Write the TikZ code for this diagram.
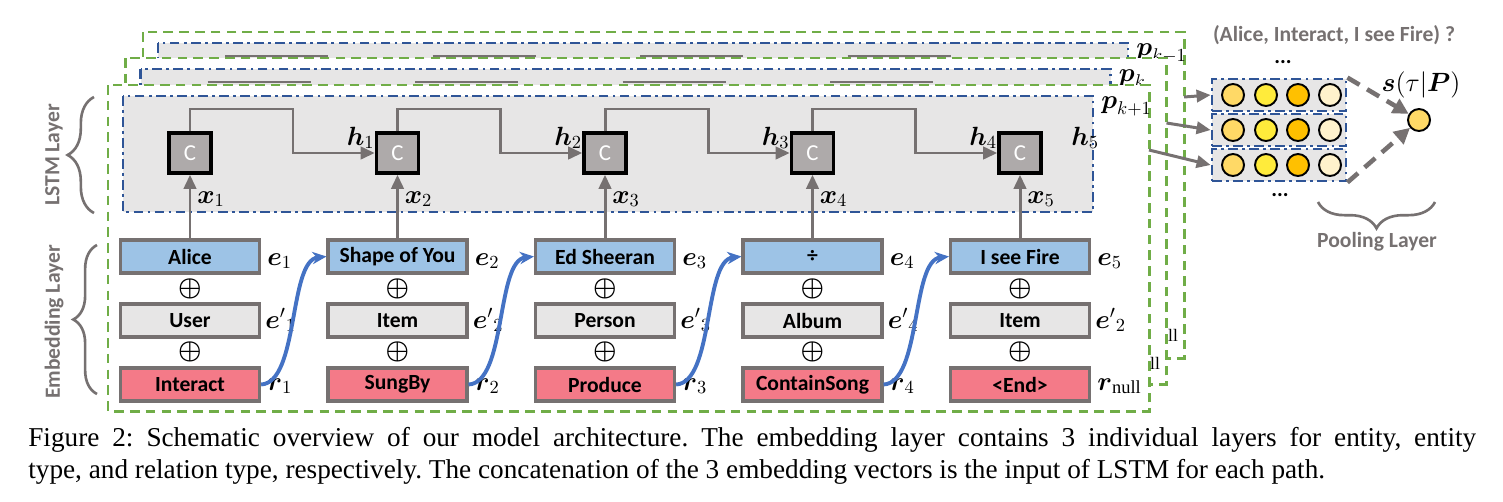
\RequirePackage{fix-cm}
\documentclass[tikz,border=0pt]{standalone}
\usepackage{amsmath}
\usepackage{fontspec}
\setmainfont{Liberation Serif}
\newfontfamily\csans{Carlito}
\usetikzlibrary{arrows.meta,decorations.pathreplacing,calc}
\definecolor{fgreen}{HTML}{70AD47}
\definecolor{fblue}{HTML}{2F5597}
\definecolor{lgray}{HTML}{E7E6E6}
\definecolor{cgray}{HTML}{AEAAAA}
\definecolor{bgray}{HTML}{767171}
\definecolor{eblue}{HTML}{9DC3E6}
\definecolor{epink}{HTML}{F47A88}
\definecolor{arrblue}{HTML}{4472C4}
\definecolor{dotA}{HTML}{FFD966}
\definecolor{dotB}{HTML}{FFEB3B}
\definecolor{dotC}{HTML}{FFC000}
\definecolor{dotD}{HTML}{FFF2CC}
\tikzset{
  greenframe/.style={draw=fgreen, line width=1.7pt, dash pattern=on 5.5pt off 3.5pt, fill=white},
  blueframe/.style={draw=fblue, line width=1.6pt, dash pattern=on 5.5pt off 2.5pt on 1.5pt off 2.5pt, fill=lgray},
  cbox/.style={draw=black, line width=2pt, fill=cgray, minimum width=0.84cm, minimum height=0.80cm, inner sep=0pt, text=white, font=\csans\fontsize{13}{15}\selectfont},
  ebox/.style={draw=bgray, line width=1.8pt, minimum width=2.78cm, minimum height=0.66cm, inner sep=0pt, font=\csans\bfseries\fontsize{12.3}{14}\selectfont},
  opl/.style={inner sep=0pt, font=\fontsize{15}{17}\selectfont},
  mlabel/.style={inner sep=0pt, font=\fontsize{15}{17}\selectfont},
  garrow/.style={draw=bgray, line width=1.7pt, -{Triangle[length=8pt,width=7pt]}},
  gline/.style={draw=bgray, line width=1.7pt},
  barrow/.style={draw=arrblue, line width=2.2pt, -{Stealth[length=8pt,width=7pt]}},
  darrow/.style={draw=bgray, line width=2.6pt, dash pattern=on 8pt off 5pt, -{Triangle[length=9pt,width=9pt]}},
  rowbox/.style={draw=fblue, line width=1.6pt, dash pattern=on 5.5pt off 2.5pt on 1.5pt off 2.5pt, fill=lgray, minimum width=2.68cm, minimum height=0.64cm, inner sep=0pt},
  dot/.style={circle, draw=black, line width=1.1pt, minimum size=0.44cm, inner sep=0pt},
  gtext/.style={text=bgray, font=\csans\bfseries\fontsize{12.3}{14}\selectfont, inner sep=0pt},
  tail/.style={inner sep=0pt, font=\fontsize{10}{12}\selectfont},
  sidebrace/.style={draw=bgray, line width=1.5pt, decorate},
  pics/pframe/.style={code={
    \draw[greenframe] (108,85) rectangle (1149,411);
    \draw[blueframe] (123,96) rectangle (1093,212);
    \foreach \x/\xm in {190/293, 397.5/500.5, 605/708, 812.5/915.5}{
      \draw[gline] (\x,109) -- (\xm,109);
    }
    \node[mlabel, anchor=base west] (plab) at (1101,108) {$#1$};
    \coordinate (out) at (1149,150);
  }}
}
\begin{document}
\begin{tikzpicture}[x=0.02cm, y=-0.02cm]
\useasboundingbox (0,0) rectangle (1503,501);
% stacked path frames (back ones only show their edges)
\pic (bk) at (35,-53) {pframe={\boldsymbol{p}_{k-1}}};
\pic (md) at (17.5,-27) {pframe={\boldsymbol{p}_{k}}};
\node[tail] (tailbk) at (1173,335) {ll};
\pic (fr) at (0,0) {pframe={\boldsymbol{p}_{k+1}}};
\node[tail] (tailmd) at (1155,363) {ll};
% front path content
\foreach \i/\x/\ent/\typ/\rel in {1/190/Alice/User/Interact, 2/397.5/Shape of You/Item/SungBy, 3/605/Ed Sheeran/Person/Produce, 4/812.5/÷/Album/ContainSong, 5/1020/I see Fire/Item/<End>}{
  \node[cbox] (c\i) at (\x,153) {C};
  \node[ebox, fill=eblue] (e\i) at (\x,256.5) {\ent};
  \node[ebox, fill=lgray] (t\i) at (\x,320.5) {\typ};
  \node[ebox, fill=epink] (r\i) at (\x,384.5) {\rel};
  \node[opl] (pa\i) at (\x,289) {$\boldsymbol{\oplus}$};
  \node[opl] (pb\i) at (\x,352) {$\boldsymbol{\oplus}$};
  \draw[garrow] (e\i.north) -- (c\i.south);
  \node[mlabel, anchor=base west] (lx\i) at (\x+7,203) {$\boldsymbol{x}_{\i}$};
}
\foreach \i/\x/\tl/\rl in {1/190/1/1, 2/397.5/2/2, 3/605/3/3, 4/812.5/4/4, 5/1020/2/\mathrm{null}}{
  \node[mlabel, anchor=base west] (le\i) at (\x+77,265) {$\boldsymbol{e}_{\i}$};
  \node[mlabel, anchor=base west] (lt\i) at (\x+75,328) {${\boldsymbol{e}'}_{\tl}$};
  \node[mlabel, anchor=base west] (lr\i) at (\x+77,390) {$\boldsymbol{r}_{\rl}$};
}
\foreach \i/\j/\xm/\x in {1/2/293/397.5, 2/3/500.5/605, 3/4/708/812.5, 4/5/915.5/1020}{
  \draw[garrow] (c\i.north) |- (\xm,109) |- (c\j.west);
  \node[mlabel, anchor=base west] (lh\j) at (\x-51,145) {$\boldsymbol{h}_{\i}$};
  \draw[barrow] (r\i.east) .. controls +(38,-2) and +(-38,4) .. (e\j.west);
}
\node[mlabel, anchor=base west] (lh5) at (1071,145) {$\boldsymbol{h}_{5}$};
% side labels and braces
\draw[sidebrace, decoration={brace, amplitude=15pt}] (94,213) -- (94,97);
\node[gtext, rotate=90] (lstm) at (54,155) {LSTM Layer};
\draw[sidebrace, decoration={brace, amplitude=13.5pt}] (97,394) -- (97,245);
\node[gtext, rotate=90] (emb) at (54,322) {Embedding Layer};
% pooling part
\node[gtext] (q) at (1334,35) {(Alice, Interact, I see Fire) ?};
\node[gtext, text=black] (dtop) at (1283,62) {...};
\node[rowbox] (row1) at (1279,95) {};
\node[rowbox] (row2) at (1279,130) {};
\node[rowbox] (row3) at (1279,165) {};
\foreach \r/\y in {1/95,2/130,3/165}{
  \foreach \k/\x/\col in {1/1233/dotA,2/1266/dotB,3/1298/dotC,4/1330/dotD}{
    \node[dot, fill=\col] (d\r\k) at (\x,\y) {};
  }
}
\node[gtext, text=black] (dbot) at (1280,195) {...};
\node[dot, fill=dotA] (sout) at (1419,120) {};
\node[mlabel] (slab) at (1421,85) {$\boldsymbol{s}(\tau|\boldsymbol{P})$};
\draw[garrow] (bkout) -- (row1.west);
\draw[garrow] (mdout) -- (row2.west);
\draw[garrow] (frout) -- (row3.west);
\draw[darrow] (row1.north east) -- (sout);
\draw[darrow] (row3.south east) -- (sout);
\draw[sidebrace, decoration={brace, amplitude=15pt}] (1435,202) -- (1318,202);
\node[gtext] (pool) at (1377,242) {Pooling Layer};
% caption
\node[anchor=north west, text width=824pt, align=justify, inner sep=0pt, font=\fontsize{15.5}{18.1}\selectfont\frenchspacing] (cap) at (28,427) {Figure 2: Schematic overview of our model architecture. The embedding layer contains 3 individual layers for entity, entity\linebreak type, and relation type, respectively. The concatenation of the 3 embedding vectors is the input of LSTM for each path.};
\end{tikzpicture}
\end{document}
